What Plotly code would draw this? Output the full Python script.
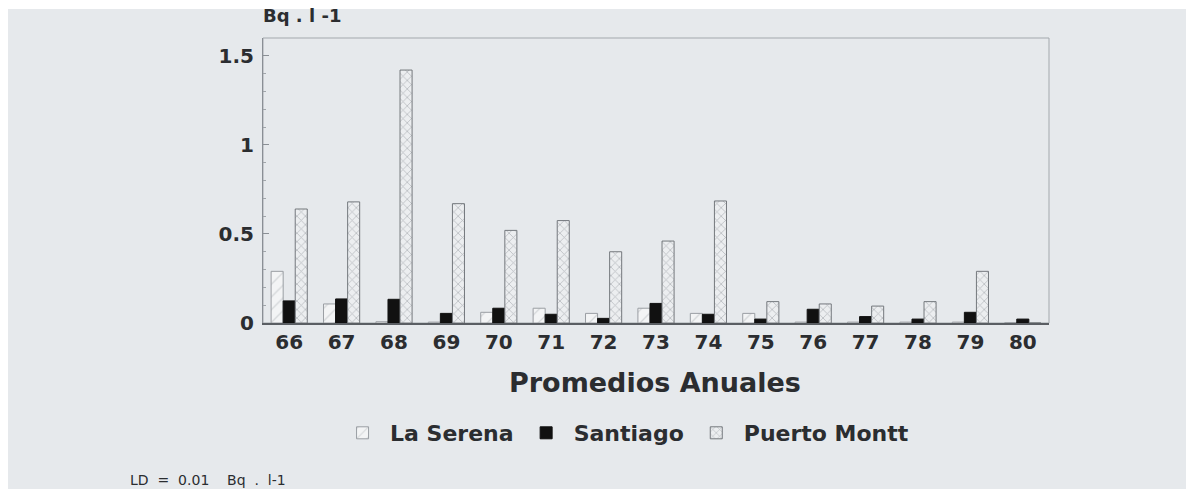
import plotly.graph_objects as go

years = ["66", "67", "68", "69", "70", "71", "72", "73", "74", "75", "76", "77", "78", "79", "80"]
la_serena = [0.29, 0.107, 0.007, 0.005, 0.06, 0.083, 0.054, 0.083, 0.054, 0.054, 0.005, 0.005, 0.005, 0.005, 0.002]
santiago = [0.124, 0.135, 0.133, 0.054, 0.083, 0.049, 0.026, 0.11, 0.049, 0.022, 0.077, 0.036, 0.022, 0.06, 0.022]
puerto_montt = [0.64, 0.68, 1.42, 0.67, 0.52, 0.575, 0.40, 0.46, 0.685, 0.12, 0.107, 0.095, 0.12, 0.29, 0.0]
y_ticks = [0, 0.5, 1, 1.5]
y_tick_labels = ["0", "0.5", "1", "1.5"]

BG = "#e6e9ec"
TXT = "#2b2d30"
FONT = "DejaVu Sans, Verdana, sans-serif"

fig = go.Figure()
fig.add_trace(go.Bar(
    x=years, y=la_serena, name="La Serena",
    marker=dict(color="#f3f4f5", line=dict(color="#9a9ea3", width=1),
                pattern=dict(shape="/", fgcolor="#b5b9be", bgcolor="#f3f4f5", size=9, solidity=0.15)),
))
fig.add_trace(go.Bar(
    x=years, y=santiago, name="Santiago",
    marker=dict(color="#111111", line=dict(color="#111111", width=1)),
))
fig.add_trace(go.Bar(
    x=years, y=puerto_montt, name="Puerto Montt",
    marker=dict(color="#eceef0", line=dict(color="#74787d", width=1),
                pattern=dict(shape="x", fgcolor="#858a90", bgcolor="#eceef0", size=6, solidity=0.25)),
))

fig.update_layout(
    width=1186, height=489,
    margin=dict(l=263, r=137, t=38, b=166, autoexpand=False),
    paper_bgcolor="white",
    plot_bgcolor="rgba(0,0,0,0)",
    barmode="group", bargap=0.31, bargroupgap=0,
    font=dict(family=FONT, color=TXT, size=19, weight="bold"),
    showlegend=True,
    legend=dict(orientation="h", x=0.46, xanchor="center", y=-0.386, yanchor="middle",
                bgcolor="rgba(0,0,0,0)", font=dict(family=FONT, size=22, color=TXT, weight="bold"),
                itemwidth=45, tracegroupgap=0),
    xaxis=dict(
        type="category", range=[-0.5, 14.5],
        showline=True, linecolor="#5a5e63", linewidth=1.5,
        showgrid=False, ticks="", tickfont=dict(family=FONT, size=20, color=TXT, weight="bold"),
        zeroline=False, automargin=False,
    ),
    yaxis=dict(
        range=[0, 1.6], tickvals=y_ticks, ticktext=y_tick_labels,
        showline=True, linecolor="#8a8f95", linewidth=1,
        showgrid=False, zeroline=False,
        ticks="inside", ticklen=6, tickcolor="#8a8f95",
        minor=dict(ticks="inside", ticklen=3, dtick=0.1, tickcolor="#a0a5aa", showgrid=False),
        tickfont=dict(family=FONT, size=20, color=TXT, weight="bold"), ticklabelstandoff=4,
        automargin=False,
    ),
    shapes=[
        dict(type="rect", xref="paper", yref="paper", x0=-0.3244, x1=1.1743, y0=-0.5825, y1=1.1018,
             fillcolor=BG, line=dict(width=0), layer="below"),
        dict(type="rect", xref="paper", yref="paper", x0=0, x1=1, y0=0, y1=1,
             fillcolor="rgba(0,0,0,0)", line=dict(color="#a3a8ad", width=1), layer="below"),
    ],
    annotations=[
        dict(text="Promedios Anuales", xref="paper", yref="paper", x=0.499, y=-0.21,
             xanchor="center", yanchor="middle", showarrow=False,
             font=dict(family=FONT, size=27, color=TXT, weight="bold")),
        dict(text="Bq . l -1", xref="paper", yref="paper", x=-0.003, y=1.08,
             xanchor="left", yanchor="middle", showarrow=False,
             font=dict(family=FONT, size=18, color=TXT, weight="bold")),
        dict(text="LD\u00a0 =\u00a0 0.01\u00a0\u00a0\u00a0 Bq\u00a0 .\u00a0 l-1", xref="paper", yref="paper",
             x=-0.172, y=-0.551, xanchor="left", yanchor="middle", showarrow=False,
             font=dict(family=FONT, size=14, color=TXT, weight="normal")),
    ],
)

fig.write_html("out.html")
